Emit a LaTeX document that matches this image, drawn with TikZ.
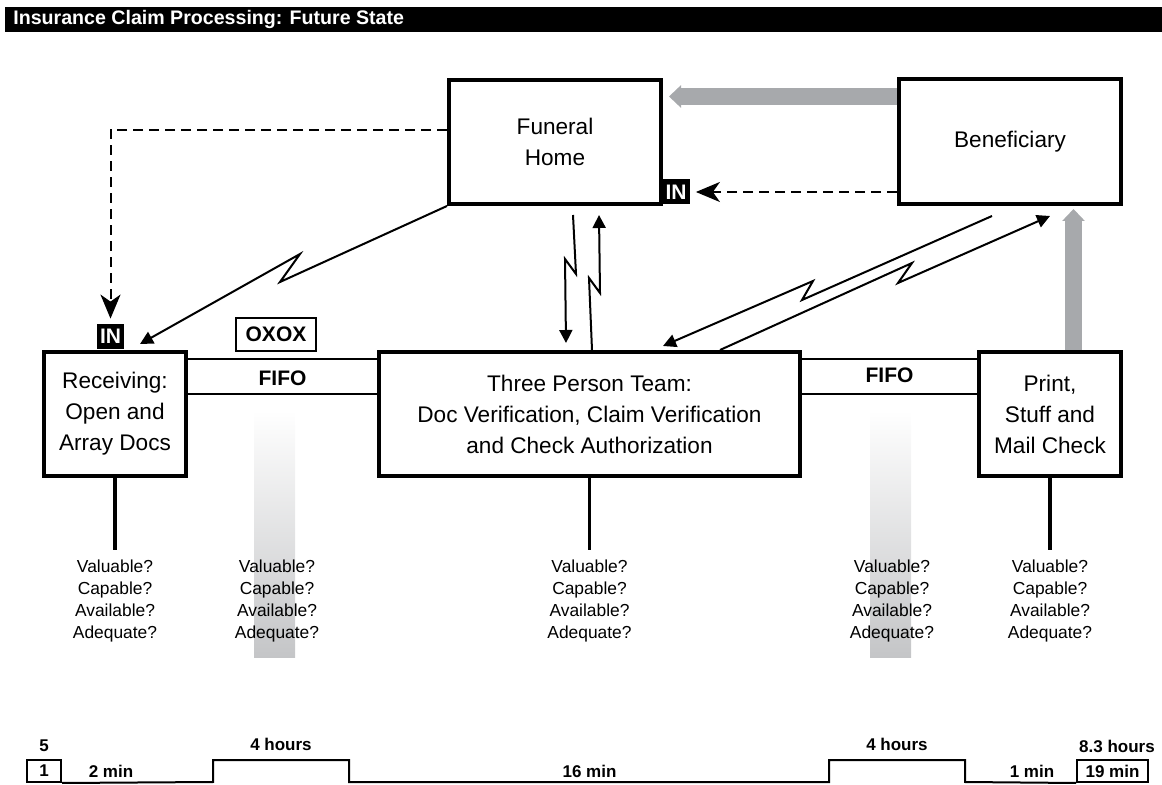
\documentclass[tikz,border=0pt]{standalone}
\usepackage{fontspec}
\setmainfont{Liberation Sans}
\usetikzlibrary{arrows.meta,calc}
\definecolor{flowgray}{HTML}{A7A9AC}
\definecolor{bargray}{HTML}{C4C5C7}
\tikzset{
    process/.style={draw, line width=2pt, align=center, inner sep=0pt,
        font=\fontsize{11.3}{15.5}\selectfont},
    inbox/.style={fill=black, text=white, inner sep=0pt, minimum width=13.5pt,
        minimum height=12.5pt, font=\bfseries\fontsize{10.5}{11}\selectfont},
    flash/.style={line width=1pt, -{Triangle[length=6.5pt,width=6.5pt]}},
    elec/.style={line width=1pt, dash pattern=on 5pt off 3pt,
        -{Stealth[length=12pt,width=10pt,inset=3.5pt]}},
    ship/.style={line width=8.5pt, flowgray, -{Triangle[length=6pt,width=11pt]}},
    fifoline/.style={line width=1pt},
    stem/.style={line width=1.75pt},
    tag/.style={font=\bfseries\fontsize{10.5}{12}\selectfont, inner sep=0pt},
    check/.style={align=center, inner sep=0pt, font=\fontsize{8.7}{10.85}\selectfont},
    timelabel/.style={font=\bfseries\fontsize{8.5}{10}\selectfont, inner sep=0pt}
}

\begin{document}
\begin{tikzpicture}[x=0.5pt,y=-0.5pt]
        \useasboundingbox (0,0) rectangle (1162,785);
        \fill[black] (5,7) rectangle (1162,32);
        \node[anchor=west, text=white, inner sep=0pt,
            font=\bfseries\fontsize{9.8}{11}\selectfont] (title) at (13,19.5)
            {Insurance Claim Processing: Future State};
        \shade[top color=white, bottom color=bargray] (254,410) rectangle (295,658);
        \shade[top color=white, bottom color=bargray] (870,410) rectangle (911,658);
        \node[process, minimum width=106pt, minimum height=62pt] (fh) at (555,142) {Funeral\\Home};
        \node[process, minimum width=111pt, minimum height=62.5pt] (ben) at (1010,141.5) {Beneficiary};
        \node[process, minimum width=71pt, minimum height=62pt] (recv) at (115,414)
            {Receiving:\\Open and\\Array Docs};
        \node[process, minimum width=210.5pt, minimum height=62pt] (team) at (589.5,414)
            {Three Person Team:\\Doc Verification, Claim Verification\\and Check Authorization};
        \node[process, minimum width=71pt, minimum height=62pt] (print) at (1050,414)
            {Print,\\Stuff and\\Mail Check};
        \node[inbox] (in1) at (110.5,336.5) {IN};
        \node[inbox] (in2) at (676,192) {IN};
        \node[draw, line width=1pt, minimum width=40pt, minimum height=16.5pt, tag] (oxox)
            at (276,334.5) {OXOX};
        \draw[fifoline] ([yshift=27.5pt]recv.east) -- ([yshift=27.5pt]team.west);
        \draw[fifoline] ([yshift=10pt]recv.east) -- ([yshift=10pt]team.west);
        \draw[fifoline] ([yshift=27.5pt]team.east) -- ([yshift=27.5pt]print.west);
        \draw[fifoline] ([yshift=10pt]team.east) -- ([yshift=10pt]print.west);
        \node[tag] (fifo1) at ([yshift=18pt]$(recv.east)!0.5!(team.west)$) {FIFO};
        \node[tag] (fifo2) at ([yshift=19.5pt]$(team.east)!0.5!(print.west)$) {FIFO};
        \draw[ship, shorten >=3pt] ([yshift=22.5pt]ben.west) -- ([yshift=22.5pt]ben.west -| fh.east);
        \draw[ship, shorten >=1.5pt] ([xshift=11.75pt]print.north) -- ([xshift=11.75pt]print.north |- ben.south);
        \draw[elec, shorten >=2.5pt] ([yshift=6pt]fh.west) -| (in1.north);
        \draw[elec, shorten >=3pt] ([yshift=-25.25pt]ben.west) -- (in2.east);
        \coordinate (fr1) at (280,282);
        \coordinate (fr2) at (300,254);
        \coordinate (ft1) at (576,274);
        \coordinate (ft2) at (565,259);
        \coordinate (tf1) at (589,278);
        \coordinate (tf2) at (600,293);
        \coordinate (bt1) at (802,300);
        \coordinate (bt2) at (813,281);
        \coordinate (tb1) at (912,263);
        \coordinate (tb2) at (898,283);
        \draw[flash] (fh.south west) -- (fr1) -- (fr2) -- ([xshift=12.5pt,yshift=3pt]recv.north);
        \draw[flash] ([xshift=9pt,yshift=-4.5pt]fh.south) -- (ft1) -- (ft2)
            -- ([xshift=-11.75pt,yshift=3.5pt]team.north);
        \draw[flash] ([xshift=1.25pt]team.north) -- (tf1) -- (tf2)
            -- ([xshift=22pt,yshift=-4.5pt]fh.south);
        \draw[flash] ([xshift=-9pt,yshift=-5pt]ben.south) -- (bt1) -- (bt2)
            -- ([xshift=36.75pt,yshift=2pt]team.north);
        \draw[flash] ([xshift=65.25pt]team.north) -- (tb1) -- (tb2)
            -- ([xshift=20pt,yshift=-5pt]ben.south);
        \node[check] (q1) at (115,601) {Valuable?\\Capable?\\Available?\\Adequate?};
        \node[check] (q2) at (277,601) {Valuable?\\Capable?\\Available?\\Adequate?};
        \node[check] (q3) at (589.5,601) {Valuable?\\Capable?\\Available?\\Adequate?};
        \node[check] (q4) at (892,601) {Valuable?\\Capable?\\Available?\\Adequate?};
        \node[check] (q5) at (1050,601) {Valuable?\\Capable?\\Available?\\Adequate?};
        \draw[stem] (recv.south) -- ([yshift=5pt]q1.north);
        \draw[stem] (team.south) -- ([yshift=5pt]q3.north);
        \draw[stem] (print.south) -- ([yshift=5pt]q5.north);
        \node[draw, line width=1pt, minimum width=17pt, minimum height=11pt, timelabel] (t1)
            at (44,771) {1};
        \node[draw, line width=1pt, minimum width=35.5pt, minimum height=11pt, timelabel] (t19)
            at (1112.5,771) {19 min};
        \draw[line width=1pt] (t1.south east) -- (213,782) -- (213,760) -- (349,760) -- (349,782)
            -- (829,782) -- (829,760) -- (965,760) -- (965,782) -- (t19.south west);
        \node[timelabel] (lt5) at (44,746) {5};
        \node[timelabel] (lt83) at (1117,746) {8.3 hours};
        \node[timelabel] (wait1) at (281,744) {4 hours};
        \node[timelabel] (wait2) at (897,744) {4 hours};
        \node[timelabel] (proc1) at (111,771) {2 min};
        \node[timelabel] (proc2) at (589.5,771) {16 min};
        \node[timelabel] (proc3) at (1032,771) {1 min};
    \end{tikzpicture}
\end{document}
